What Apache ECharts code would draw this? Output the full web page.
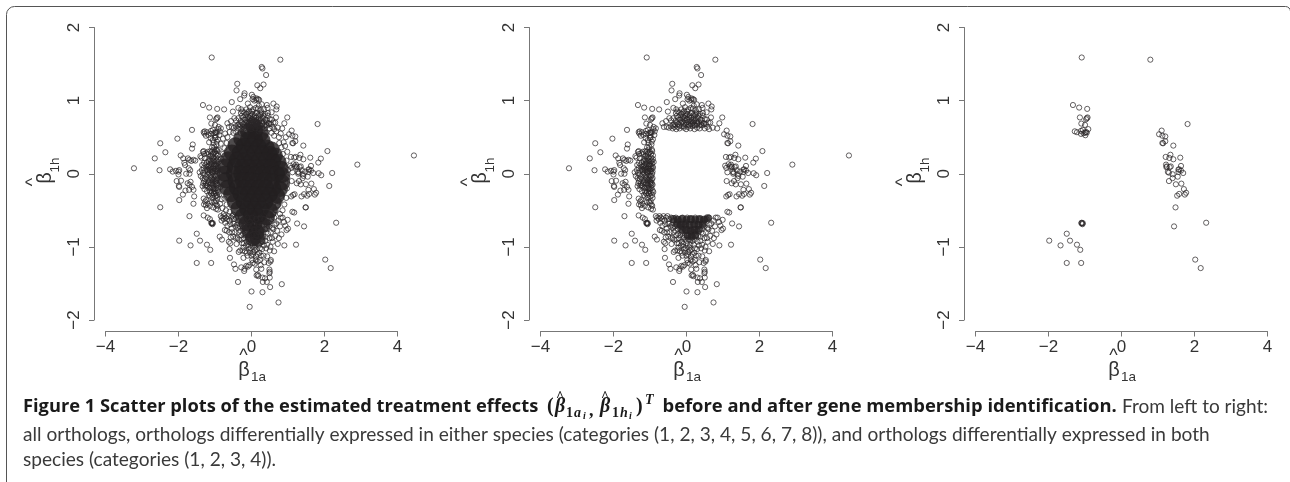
<!DOCTYPE html>
<html><head><meta charset="utf-8">
<script src="https://cdn.jsdelivr.net/npm/echarts@6/dist/echarts.min.js"></script>
<style>html,body{margin:0;padding:0;background:#fff}#c{width:1290px;height:482px}</style>
</head><body><div id="c"></div>
<script>
const xTicks=[-4,-2,0,2,4];
const yTicks=[-2,-1,0,1,2];
// Points visible in the right-hand panel (differentially expressed in both species)
const bothSpecies=[[-1.09,1.59],[.79,1.56],[-1.33,.94],[-1.16,.905],[-.94,.887],[-1.14,.77],[-.93,.77],[-.97,.745],[-.95,.76],[-1.1,.686],[-1,.668],[-.91,.61],[-1.28,.58],[-1.22,.568],[-1.11,.586],[-1.06,.6],[-1.11,.545],[-1.04,.554],[-.95,.563],[-.99,.527],[-1,.563],[-.97,.57],
[1.81,.68],[1.1,.59],[1.03,.54],[1.12,.52],[1.2,.51],[1.2,.445],[1.12,.42],[1.14,.417],[1.42,.385],[1.21,.23],[1.34,.26],[1.31,.216],[1.42,.198],[1.61,.22],[1.22,.125],[1.24,.1],[1.23,.09],[1.35,.1],[1.32,.09],[1.63,.107],[1.27,.025],[1.3,.015],[1.4,-.007],[1.56,.057],[1.58,.06],[1.56,.025],[1.63,.043],[1.69,.01],[1.54,-.04],[1.4,-.06],[1.3,-.1],[1.49,-.144],[1.64,-.135],[1.71,-.21],[1.77,-.26],[1.58,-.276],[1.525,-.3],[1.735,-.285],[1.48,-.46],[1.44,-.72],[2.32,-.67],[2.02,-1.174],[2.17,-1.29],
[-1.09,-.67],[-1.08,-.68],[-1.07,-.69],[-1.1,-.675],[-1.06,-.675],[-1.5,-.82],[-1.98,-.915],[-1.67,-.98],[-1.41,-.915],[-1.22,-.97],[-1.13,-1.04],[-1.5,-1.22],[-1.105,-1.22]];
// Extra points in the middle panel (differentially expressed in either species)
const eitherOutliers=[[-3.22,.075],[-2.65,.21],[-2.5,.417],[-2.36,.294],[-2.52,.048],[-2.5,-.458],[-2.03,.48],[-1.63,.6],[-1.61,.4],[-1.63,.344],[4.45,.25],[2.9,.125],[2.08,.31],[2.21,.01],[2.13,-.167],[1.9,.207],[1.83,.153],[1.84,.007],[1.91,-.02],
[-2.23,.06],[-2.16,.03],[-2.07,.04],[-2,.03],[-1.98,.05],[-2,-.01],[-2.05,-.1],[-1.93,-.095],[-1.99,-.167],[-1.98,-.18],[-1.98,-.36],[-1.88,-.285],[-1.94,.25],[-1.87,.21],[-1.84,.15],[-1.82,.12],[-1.74,.21],[-1.7,.19],[-1.65,.175],[-1.59,.19],[-1.54,.18],[-1.72,.075],[-1.68,.05],[-1.79,0],[-1.7,0],[-1.75,-.13],[-1.67,-.11],[-1.7,-.15],[-1.63,-.18],[-1.81,-.23],[-1.71,-.22],[-1.59,-.22],[-1.57,-.31],[-1.59,-.41],[-1.7,-.58],[-1.31,-.57],[-1.2,-.6],[-1.14,-.62],
[1.17,.22],[1.08,.23],[1.15,.13],[1.18,.1],[1.06,.11],[1.09,.08],[1.28,.0],[1.38,.05],[1.47,.03],[1.42,-.03],[1.12,.02],[1.1,-.1],[1.24,-.13],[1.35,-.145],[1.09,-.31],[1.14,-.29],[1.18,-.28],[1.37,-.31],[1.44,-.28],[1.56,-.22],[1.49,-.46],[1.12,-.52],[1.17,-.53],[1.25,-.68],[.99,-.63],[1,-.75],[.9,-.98],[1.22,-.97],[.83,-1.51],[-.05,-1.82],[.74,-1.76],[.3,-1.62],[0,-1.61],[-.37,-1.48],[.51,-1.55]];
const eitherLeft=[[-1.42,.02],[-1.39,-.03],[-1.36,.05],[-1.34,-.06],[-1.33,.01],[-1.31,.08],[-1.3,-.1],[-1.29,-.02],[-1.27,.04],[-1.26,.12],[-1.25,-.13],[-1.24,-.05],[-1.23,.07],[-1.22,.16],[-1.21,-.17],[-1.2,-.01],[-1.19,.03],[-1.18,-.09],[-1.17,.1],[-1.16,.2],[-1.15,-.2],[-1.14,-.04],[-1.13,.05],[-1.12,.14],[-1.11,-.13],[-1.1,.24],[-1.09,-.24],[-1.08,-.07],[-1.07,.02],[-1.06,.09],[-1.05,.18],[-1.04,-.16],[-1.03,-.27],[-1.02,.29],[-1.01,-.03],[-1,.06],[-.99,.13],[-.98,-.11],[-.97,.22],[-.96,-.2],[-.95,.33],[-.94,0],[-.93,-.06],[-.92,.08],[-.91,-.25],[-.9,.16],[-1.28,.21],[-1.24,.28],[-1.2,.3],[-1.18,.27],[-1.13,.31],[-1.08,.36],[-1.02,.37],[-.96,.4],[-1.37,.22],[-1.33,.3],[-1.31,.31],[-1.3,.27],[-1.4,.24],[-1.29,-.21],[-1.34,-.17],[-1.22,-.24],[-1.17,-.29],[-1.11,-.27],[-1,-.21],[-.94,-.29],[-.97,.27],[-1.06,.27],[-1.16,.12],[-1.1,.17],[-1.02,.11],[-.95,.18],[-1.05,-.09],[-.99,-.14],[-1.12,-.19],[-1.27,-.16],[-.92,.25],[-.93,-.15],
[-1.31,-.34],[-1.27,-.38],[-1.24,-.36],[-1.3,-.42],[-1.25,-.43],[-1.2,-.41],[-1.14,-.44],[-1.09,-.39],[-1.03,-.38],[-1,-.4],[-.98,-.37],[-.96,-.42],[-.94,-.44],[-1.22,-.47],[-1.05,-.46],[-.97,-.48],[-.92,-.49],[-1.14,-.31],[-1.07,-.33],
[-1.31,.57],[-1.29,.55],[-1.18,.53],[-1.12,.49],[-1.06,.46],[-1,.49],[-.98,.5],[-.92,.47],[-.88,.53],[-.87,.58],[-.84,.62],[-.9,.64],[-1.16,.43],[-1.04,.42],[-.95,.44],[-1.25,.52],
[-1.21,.05],[-1.19,-.13],[-1.17,.17],[-1.15,.01],[-1.13,-.09],[-1.12,.09],[-1.1,-.02],[-1.09,.13],[-1.08,-.15],[-1.06,.04],[-1.05,-.2],[-1.04,.22],[-1.03,.07],[-1.02,-.07],[-1.01,.17],[-1,-.12],[-.99,.02],[-.98,.1],[-.97,-.03],[-.96,.07],[-.95,-.08],[-.94,.14],[-.93,-.23],[-.92,.2],[-.96,-.16],[-.98,-.26],[-1.03,-.2],[-1.07,-.29],[-1.13,.24],[-1.09,.3],[-1.04,.33],[-1,.3],[-.94,.31],[-.93,-.33],[-.99,-.31],[-1.2,.1],[-1.24,-.16],[-1.28,-.07],[-1.32,-.13],[-1.35,.12],[-1.3,.15],
[-1.14,.07],[-1.11,-.06],[-1.09,.03],[-1.07,-.11],[-1.05,.01],[-1.03,.13],[-1.01,.04],[-.99,-.08],[-.97,.04],[-.95,-.13],[-.93,.03],[-1.16,-.12],[-1.18,.06],[-1.13,.19],[-1.07,.21],[-1.02,-.24],[-1.08,-.19],[-1.14,-.24],[-.97,.17],[-.93,.1]];
const eitherTop=[[.28,1.46],[.3,1.44],[.4,1.35],[-.39,1.23],[-.41,1.14],[.16,1.21],[.24,1.17],[.33,1.22],[-.19,1.1],[-.2,1.07],[-.31,1.02],[.01,1.08],[.03,1.02],[.14,1.03],[.21,1.01],[.18,1.02],[.05,1.05],[.08,1],[.13,1.01],[-.54,.98],[-.51,.85],[-.36,.9],[-.28,.88],[-.75,.88],[-.1,.96],[-.04,.91],[.12,.9],[.17,.89],[.28,.95],[.6,.96],[.69,.92],[.68,.88],[.44,.9],[.98,.77],[.9,.69],[.67,.77],[.65,.7],[.84,.62],[.72,.63],[.2,.93],[.42,.94],[.28,.84],[.34,.88],[.55,.84],[-.36,.76],[-.42,.73],[-.47,.76],[-.56,.72],[-.66,.69],[-.62,.64],[-.54,.64],[-.48,.63],[-.43,.65],[-.38,.62],[-.33,.64],[-.28,.61],[-.24,.64],[-.19,.62],[-.13,.65],[-.07,.63],[-.01,.61],[.04,.64],[.1,.62],[.16,.65],[.22,.61],[.29,.63],[.36,.62],[.43,.66],[.5,.62],[.57,.64],[.62,.61],
[-.3,.72],[-.27,.79],[-.23,.68],[-.2,.74],[-.17,.8],[-.15,.7],[-.12,.76],[-.1,.84],[-.08,.68],[-.05,.73],[-.03,.79],[0,.7],[.02,.85],[.03,.75],[.06,.67],[.08,.8],[.1,.72],[.12,.68],[.13,.77],[.15,.83],[.18,.7],[.2,.75],[.22,.67],[.24,.8],[.26,.72],[.29,.68],[.31,.76],[.34,.71],[.37,.82],[.39,.67],[.41,.74],[.44,.79],[.47,.69],[.5,.75],[.53,.68],[.56,.74],[.6,.7],[-.25,.85],[-.35,.68],[-.14,.88],[.05,.88],[.25,.87],[-.02,.82],[-.38,.66],
[-.26,.7],[-.22,.77],[-.19,.66],[-.16,.74],[-.13,.82],[-.11,.71],[-.09,.78],[-.07,.65],[-.04,.76],[-.02,.67],[.01,.74],[.03,.81],[.05,.71],[.07,.77],[.09,.66],[.11,.83],[.14,.73],[.16,.69],[.19,.8],[.21,.72],[.23,.66],[.25,.76],[.27,.82],[.3,.7],[.33,.79],[.35,.66],[.38,.74],[.42,.7],[.45,.83],[.49,.68],[-.31,.67],[-.29,.83],[-.2,.84],[-.06,.86]];
const eitherBottom=[[-.84,-.58],[-.8,-.6],[-.76,-.62],[-.82,-.64],[-.74,-.58],[-.7,-.6],[-.66,-.62],[-.72,-.67],[-.63,-.58],[-.6,-.64],[-.56,-.6],[-.52,-.58],[-.48,-.62],[-.58,-.69],[-.66,-.71],[-.73,-.77],[-.68,-.78],[-.61,-.8],[-.54,-.75],[-.47,-.68],[-.42,-.6],[-.4,-.7],[-.36,-.64],[-.45,-.8],[-.5,-.86],[-.57,-.87],[-.87,-.86],[-.81,-.9],[-.62,-.93],[-.58,-.95],[-.6,-1.03],[-.59,-1.15],[-.48,-1.24],[-.44,-1.3],[-.35,-1.07],[-.41,-.96],[-.38,-.88],[-.35,-.8],[-.32,-.72],[-.29,-.6],[-.28,-.84],[-.26,-.95],[-.31,-1.05],[-.24,-.75],[-.22,-1.01],[-.21,-.65],[-.2,-.88],[-.18,-1.06],[-.22,-1.15],[-.28,-1.28],[-.19,-1.3],[-.2,-1.33],[-.14,-1.26],[-.1,-1.27],[-.06,-1.25],[-.14,-.8],[-.13,-.93],[-.11,-1.12],[-.09,-.7],[-.08,-1],[-.06,-.87],[-.04,-1.08],[-.03,-.77],[0,-.95],[.02,-1.18],[.03,-1.22],[.05,-1.07],[.06,-.82],[.08,-1.01],[.09,-1.23],[.11,-.9],[.12,-1.13],[.14,-1.39],[.17,-1.38],[.19,-1.4],[.13,-1.31],[.17,-1.2],[.2,-.97],[.21,-1.08],[.23,-1.18],[.25,-1.25],[.27,-1.3],[.3,-1.42],[.31,-1.48],[.42,-1.48],[.37,-1.43],[.25,-.85],[.29,-1.03],[.33,-1.12],[.35,-1.21],[.38,-.92],[.4,-1.02],[.43,-1.13],[.47,-1.22],[.49,-1.31],[.5,-1.34],[.49,-1.36],[.5,-1.42],[.52,-1.2],[.53,-1.18],[.49,-.88],[.52,-1.0],[.5,-1.05],[.58,-.93],[.62,-1.06],[.65,-.85],[.7,-.78],[.72,-.96],[.75,-.88],[.78,-.72],[.82,-.83],[.85,-.6],[.89,-.66],[.93,-.71],[.96,-.77],[.8,-.6],[.74,-.64],[.68,-.68],[.62,-.6],[.57,-.74],[.55,-.62],[.47,-.67],[.42,-.75],[.35,-.62],[.29,-.7],[.24,-.6],[.18,-.76],[.13,-.62],[.07,-.7],[.02,-.6],[-.04,-.66],[-.11,-.6],[-.17,-.68],[-.27,-.67],
[-.34,-.9],[-.3,-.78],[-.27,-.9],[-.25,-1.05],[-.23,-.82],[-.21,-.95],[-.19,-.72],[-.17,-.84],[-.15,-.98],[-.13,-1.08],[-.12,-.73],[-.1,-.88],[-.09,-.96],[-.07,-1.04],[-.05,-.78],[-.03,-.9],[-.02,-1.02],[0,-1.12],[.01,-.84],[.03,-.98],[.04,-1.1],[.06,-.9],[.07,-.76],[.09,-1.05],[.1,-.97],[.12,-1.18],[.13,-.84],[.14,-1.04],[.16,-.92],[.17,-1.1],[.19,-.8],[.22,-.9],[.23,-1.02],[.26,-1.12],[.28,-.78],[.3,-.93],[.32,-.85],[.34,-.98],[.37,-.76],[.39,-.86],[.43,-.97],[.45,-.82],[.48,-.72],[.53,-.8],[.56,-.88],[.6,-.76],[.63,-.7],[-.44,-.72],[-.5,-.68],[-.53,-.8],[-.43,-.88],[-.37,-.74]];
// Saturated part of the bottom cluster in the middle panel, estimated centres
const bottomCore=[[-.36,-.62],[-.24,-.63],[-.12,-.62],[0,-.63],[.12,-.62],[.24,-.63],[.36,-.62],[.48,-.63],[.58,-.61],[-.26,-.69],[-.15,-.7],[-.03,-.69],[.09,-.7],[.21,-.69],[.33,-.7],[.44,-.69],[-.12,-.77],[0,-.77],[.11,-.78],[.22,-.77],[.33,-.77],[.03,-.85],[.14,-.86],[.24,-.84]];
// Extra points in the left panel, inside the gap of the middle panel
const remaining=[[-.98,.33],[-.94,.25],[-.9,.33],[-.97,.12],[-.92,.05],[-.97,-.1],[-.92,-.2],[-.96,-.3],[-.88,-.28],[-.84,.41],[-.78,.48],[-.72,.55],[-.66,.5],[-.6,.57],[-.86,-.41],[-.8,-.47],[-.76,-.55],[-.7,-.5],[-.82,-.35],[-.85,-.18],[-.83,.2],[.94,.5],[.88,.43],[.8,.55],[.75,.5],[.98,.3],[.96,.18],[1,.05],[.98,-.05],[.97,-.2],[.95,-.33],[.9,-.42],[.85,-.5],[.78,-.55],[.68,.58],[.9,.12],[.93,-.12],[.72,-.43],[.62,.52],[.55,.56],[-.5,.56],[-.42,.57],[-.3,.56],[.2,.58],[.4,.56],[-.6,-.52],[-.5,-.56],[.6,-.55],[.5,-.56],[.4,-.52],[-.74,.35],[-.68,.42],[-.78,.27],[.82,.36],[.76,.42],[.86,.27],[.92,.38],[-.68,-.42],[-.74,-.34],[.76,-.38],[.82,-.3],[.66,-.5]];
// Saturated black area of the left panel: overplotted points cannot be read one by one,
// so these are the estimated centres of the solid mass.
const denseCore=[[.05,.66],[-.1,.58],[.1,.58],[.25,.55],[-.28,.48],[-.1,.47],[.1,.47],[.3,.46],[-.44,.39],[-.22,.38],[0,.38],[.2,.37],[.42,.36],[.55,.33],[-.54,.29],[-.32,.29],[-.12,.28],[.08,.28],[.3,.28],[.5,.27],[.64,.25],[-.64,.2],[-.4,.19],[-.2,.18],[0,.18],[.2,.18],[.4,.18],[.6,.17],[.74,.16],[-.72,.1],[-.46,.1],[-.26,.09],[-.06,.09],[.14,.09],[.34,.09],[.54,.09],[.8,.07],[-.74,0],[-.48,0],[-.28,0],[-.08,0],[.12,0],[.32,0],[.52,0],[.7,0],[.84,-.02],[-.72,-.09],[-.44,-.1],[-.24,-.09],[-.04,-.09],[.16,-.1],[.36,-.09],[.56,-.1],[.84,-.12],[-.66,-.19],[-.4,-.19],[-.2,-.19],[0,-.19],[.2,-.19],[.4,-.19],[.6,-.2],[.78,-.21],[-.56,-.28],[-.3,-.28],[-.1,-.28],[.1,-.28],[.3,-.28],[.5,-.29],[.7,-.3],[-.46,-.38],[-.22,-.38],[-.02,-.38],[.18,-.38],[.38,-.38],[.6,-.4],[-.36,-.48],[-.12,-.48],[.08,-.48],[.28,-.48],[.5,-.5],[-.24,-.58],[-.02,-.58],[.18,-.58],[.42,-.6],[-.14,-.68],[.08,-.68],[.3,-.7],[-.06,-.78],[.14,-.8],[.04,-.88],[.17,-.89]];

const xTickLabel=v=>String(v).replace('-','\u2212');
const panelLefts=[105.5,540.5,975.5];
const axisStyle={lineStyle:{color:'#777',width:1}};
const ink='#2a2627';
const ring=d=>({type:'scatter',data:d,symbol:'circle',symbolSize:5.2,silent:true,clip:false,
  itemStyle:{color:'rgba(0,0,0,0)',borderColor:ink,borderWidth:.8,opacity:.9}});
const solid=(d,s)=>({type:'scatter',data:d,symbol:'circle',symbolSize:s,silent:true,clip:false,itemStyle:{color:'#231f20'}});
const panels=[
 [solid(denseCore,16),ring(remaining),ring(eitherLeft),ring(eitherTop),ring(eitherBottom),ring(eitherOutliers),ring(bothSpecies)],
 [solid(bottomCore,8),ring(eitherLeft),ring(eitherTop),ring(eitherBottom),ring(eitherOutliers),ring(bothSpecies)],
 [ring(bothSpecies)]
];
const series=[];
panels.forEach((p,i)=>p.forEach(s=>{s.xAxisIndex=i;s.yAxisIndex=i;series.push(s);}));
const font='"Liberation Sans",Arial,sans-serif';
const txt=(x,y,text,size,extra)=>({type:'text',x,y,silent:true,style:Object.assign({text,fontSize:size,fontFamily:font,fill:'#333',verticalAlign:'middle'},extra||{})});
const graphic=[];
graphic.push({type:'rect',silent:true,shape:{x:6.5,y:6.5,width:1284,height:600,r:[8,5,0,0]},style:{fill:'none',stroke:'#555',lineWidth:1}});
const ctr={align:'center'};
panelLefts.forEach(l=>{
  graphic.push(txt(l+138,356,'^',18,ctr));
  graphic.push(txt(l+138.5,370,'\u03b2',20,ctr));
  graphic.push(txt(l+153,377.5,'1a',13.5,ctr));
  const b=txt(l-60,178,'\u03b2',20,ctr);b.rotation=Math.PI/2;graphic.push(b);
  const h=txt(l-72,182,'^',18,ctr);h.rotation=Math.PI/2;graphic.push(h);
  const s=txt(l-50,165,'1h',13.5,ctr);s.rotation=Math.PI/2;graphic.push(s);
});
const boldFont='"Open Sans",Lato,sans-serif';
const cap='Lato,"Open Sans",sans-serif';
const bold=(x,y,t,sz)=>txt(x,y,t,sz,{fontFamily:boldFont,fontWeight:'bold',fill:'#1a1a1a'});
const thin=(x,y,t,sz)=>txt(x,y,t,sz,{fontFamily:cap,fill:'#3a3a3a'});
const m=(x,y,t,sz,st)=>txt(x,y,t,sz,{fontFamily:'"Liberation Serif",serif',fontWeight:'bold',fontStyle:st||'italic',fill:'#1a1a1a'});
graphic.push(bold(23,407,'Figure 1 Scatter plots of the estimated treatment effects',18.3));
graphic.push(m(547,407,'(',20,'normal'));
graphic.push(m(555,407,'\u03b2',20));graphic.push(m(556,397,'^',14,'normal'));
graphic.push(m(566,413,'1',14,'normal'));graphic.push(m(574,413,'a',14));graphic.push(m(583,416,'i',10));
graphic.push(m(589,411,',',18,'normal'));
graphic.push(m(600,407,'\u03b2',20));graphic.push(m(601,397,'^',14,'normal'));
graphic.push(m(612,413,'1',14,'normal'));graphic.push(m(620,413,'h',14));graphic.push(m(629,416,'i',10));
graphic.push(m(636,407,')',20,'normal'));
graphic.push(m(645,400,'T',14));
graphic.push(bold(662.5,407,'before and after gene membership identification.',18.4));
graphic.push(thin(1122,407,'From left to right:',19.05));
graphic.push(thin(23,434.5,'all orthologs, orthologs differentially expressed in either species (categories (1, 2, 3, 4, 5, 6, 7, 8)), and orthologs differentially expressed in both',19.1));
graphic.push(thin(23,460,'species (categories (1, 2, 3, 4)).',19.1));

const chart=echarts.init(document.getElementById('c'),null,{renderer:'canvas'});
chart.setOption({animation:false,backgroundColor:'#fff',
 grid:panelLefts.map(l=>({left:l,top:27.5,width:292,height:292.5})),
 xAxis:panelLefts.map((l,i)=>({type:'value',gridIndex:i,min:xTicks[0],max:xTicks[xTicks.length-1],interval:xTicks[1]-xTicks[0],position:'bottom',offset:11.5,splitLine:{show:false},axisLine:Object.assign({onZero:false,show:true},axisStyle),axisTick:Object.assign({show:true,length:5},axisStyle),axisLabel:{color:'#333',fontFamily:font,fontSize:17,margin:7,formatter:xTickLabel,hideOverlap:false,showMinLabel:true,showMaxLabel:true}})),
 yAxis:panelLefts.map((l,i)=>({type:'value',gridIndex:i,min:yTicks[0],max:yTicks[yTicks.length-1],interval:yTicks[1]-yTicks[0],position:'left',offset:11.5,splitLine:{show:false},axisLine:Object.assign({onZero:false,show:true},axisStyle),axisTick:Object.assign({show:true,length:5},axisStyle),axisLabel:{color:'#333',fontFamily:font,fontSize:17,margin:11,rotate:90,formatter:xTickLabel,hideOverlap:false,showMinLabel:true,showMaxLabel:true}})),
 series,graphic});
</script></body></html>
